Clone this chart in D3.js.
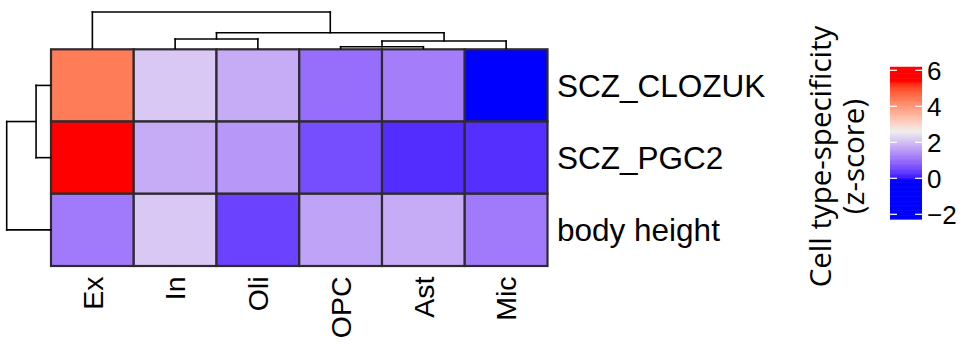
<!DOCTYPE html>
<html>
<head>
<meta charset="utf-8">
<script src="https://cdn.jsdelivr.net/npm/d3@7"></script>
<style>
  html, body { margin: 0; padding: 0; background: #ffffff; }
  svg { display: block; }
  text { fill: #000; }
</style>
</head>
<body>
<svg id="chart" width="968" height="345"></svg>
<script>
// Traits (rows) and cell types (columns), in dendrogram order
const traits = ["SCZ_CLOZUK", "SCZ_PGC2", "body height"];
const cellTypes = ["Ex", "In", "Oli", "OPC", "Ast", "Mic"];

// Cell type-specificity z-scores, one array per trait
const scoresClozuk = [4.4, 2.13, 1.79, 1.0, 1.21, -2.28];
const scoresPgc2 = [6.18, 1.79, 1.52, 0.60, 0.23, 0.25];
const scoresBodyHeight = [1.16, 2.13, 0.46, 1.67, 1.79, 1.16];
const scoreRows = [scoresClozuk, scoresPgc2, scoresBodyHeight];

// Colour mapping breaks (blue -> light grey -> red) and legend ticks
const colorBreaks = [-0.1, 2.6, 5.4];
const colorStops = ["#0000FF", "#EEEEEE", "#FF0000"];
const legendTicks = [-2, 0, 2, 4, 6];
const legendTitle = ["Cell type-specificity", "(z-score)"];

// Hierarchical clustering of columns and rows (merge heights)
const colTree = { h: 7.3, children: [
  "Ex",
  { h: 3.16, children: [
    { h: 1.9, children: ["In", "Oli"] },
    { h: 1.5, children: [ { h: 0.36, children: ["OPC", "Ast"] }, "Mic" ] }
  ] }
] };
const rowTree = { h: 4.4, children: [
  { h: 1.45, children: ["SCZ_CLOZUK", "SCZ_PGC2"] },
  "body height"
] };

const svg = d3.select("#chart");

const heat = { left: 51, right: 547.5, top: 49.3, bottom: 266 };

const x = d3.scaleBand().domain(cellTypes).range([heat.left, heat.right]).padding(0);
const y = d3.scaleBand().domain(traits).range([heat.top, heat.bottom]).padding(0);

const color = d3.scaleLinear()
  .domain(colorBreaks)
  .range(colorStops)
  .interpolate(d3.interpolateLab)
  .clamp(true);

// Heatmap cells
const cells = [];
traits.forEach((t, i) => cellTypes.forEach((c, j) => cells.push({ t, c, v: scoreRows[i][j] })));

svg.append("g").selectAll("rect")
  .data(cells)
  .join("rect")
  .attr("x", d => x(d.c))
  .attr("y", d => y(d.t))
  .attr("width", x.bandwidth())
  .attr("height", y.bandwidth())
  .attr("fill", d => color(d.v))
  .attr("stroke", "#2e2a2e")
  .attr("stroke-width", 2.2);

// Dendrograms: rectangular elbows, node position = midpoint of children
function layoutTree(node, leafPos) {
  if (typeof node === "string") return { pos: leafPos(node), h: 0 };
  const kids = node.children.map(k => layoutTree(k, leafPos));
  const pos = (kids[0].pos + kids[kids.length - 1].pos) / 2;
  return { pos, h: node.h, kids };
}

function collectSegments(n, out) {
  if (!n.kids) return out;
  n.kids.forEach(k => {
    out.push({ p1: k.pos, h1: k.h, p2: k.pos, h2: n.h });
    collectSegments(k, out);
  });
  out.push({ p1: n.kids[0].pos, h1: n.h, p2: n.kids[n.kids.length - 1].pos, h2: n.h });
  return out;
}

// Column dendrogram above the heatmap
const colH = d3.scaleLinear().domain([0, colTree.h]).range([48.5, 12]);
const colSegs = collectSegments(layoutTree(colTree, c => x(c) + x.bandwidth() / 2), []);
svg.append("g").selectAll("line")
  .data(colSegs)
  .join("line")
  .attr("x1", d => d.p1).attr("x2", d => d.p2)
  .attr("y1", d => colH(d.h1)).attr("y2", d => colH(d.h2))
  .attr("stroke", "#000").attr("stroke-width", 1.6)
  .attr("stroke-linecap", "square");

// Row dendrogram left of the heatmap
const rowH = d3.scaleLinear().domain([0, rowTree.h]).range([50.5, 6.7]);
const rowSegs = collectSegments(layoutTree(rowTree, t => y(t) + y.bandwidth() / 2), []);
svg.append("g").selectAll("line")
  .data(rowSegs)
  .join("line")
  .attr("y1", d => d.p1).attr("y2", d => d.p2)
  .attr("x1", d => rowH(d.h1)).attr("x2", d => rowH(d.h2))
  .attr("stroke", "#000").attr("stroke-width", 1.6)
  .attr("stroke-linecap", "square");

// Row labels
svg.append("g").selectAll("text")
  .data(traits)
  .join("text")
  .attr("x", 557)
  .attr("y", d => y(d) + y.bandwidth() / 2)
  .attr("dy", "0.36em")
  .style("font-family", "'Liberation Sans', Arial, Helvetica, sans-serif")
  .style("font-size", "31.5px")
  .text(d => d);

// Column labels, rotated
svg.append("g").selectAll("text")
  .data(cellTypes)
  .join("text")
  .attr("transform", d => `translate(${x(d) + x.bandwidth() / 2},276.5) rotate(-90)`)
  .attr("text-anchor", "end")
  .attr("dy", "0.36em")
  .style("font-family", "'Liberation Sans', Arial, Helvetica, sans-serif")
  .style("font-size", "28.5px")
  .text(d => d);

// Colour legend
const legendScale = d3.scaleLinear().domain([-2, 6]).range([214.3, 70.3]);
const legendExtent = [-2.28, 6.18];
const lg = svg.append("g");
const bar = { x: 890, w: 32 };
const steps = d3.range(0, 120).map(i => legendExtent[0] + (legendExtent[1] - legendExtent[0]) * i / 120);
const stepH = (legendScale(legendExtent[0]) - legendScale(legendExtent[1])) / 120;
lg.selectAll("rect")
  .data(steps)
  .join("rect")
  .attr("x", bar.x)
  .attr("width", bar.w)
  .attr("y", d => legendScale(d) - stepH - 0.3)
  .attr("height", stepH + 0.6)
  .attr("fill", d => color(d + (legendExtent[1] - legendExtent[0]) / 240));

// White tick marks on both edges of the bar
lg.selectAll("line.tl")
  .data(legendTicks)
  .join("line")
  .attr("class", "tl")
  .attr("x1", bar.x).attr("x2", bar.x + 7)
  .attr("y1", d => legendScale(d)).attr("y2", d => legendScale(d))
  .attr("stroke", "#fff").attr("stroke-width", 1.2);
lg.selectAll("line.tr")
  .data(legendTicks)
  .join("line")
  .attr("class", "tr")
  .attr("x1", bar.x + bar.w - 7).attr("x2", bar.x + bar.w)
  .attr("y1", d => legendScale(d)).attr("y2", d => legendScale(d))
  .attr("stroke", "#fff").attr("stroke-width", 1.2);

lg.selectAll("text")
  .data(legendTicks)
  .join("text")
  .attr("x", bar.x + bar.w + 5)
  .attr("y", d => legendScale(d))
  .attr("dy", "0.36em")
  .style("font-family", "'Liberation Sans', Arial, Helvetica, sans-serif")
  .style("font-size", "26px")
  .text(d => d < 0 ? "\u2212" + Math.abs(d) : d);

// Legend title, rotated, two lines
svg.append("g").selectAll("text")
  .data(legendTitle)
  .join("text")
  .attr("transform", (d, i) => `translate(${831 + i * 33},156.5) rotate(-90)`)
  .attr("text-anchor", "middle")
  .style("font-family", "'Open Sans', 'Noto Sans', sans-serif")
  .style("font-size", "29.5px")
  .text(d => d);
</script>
</body>
</html>
